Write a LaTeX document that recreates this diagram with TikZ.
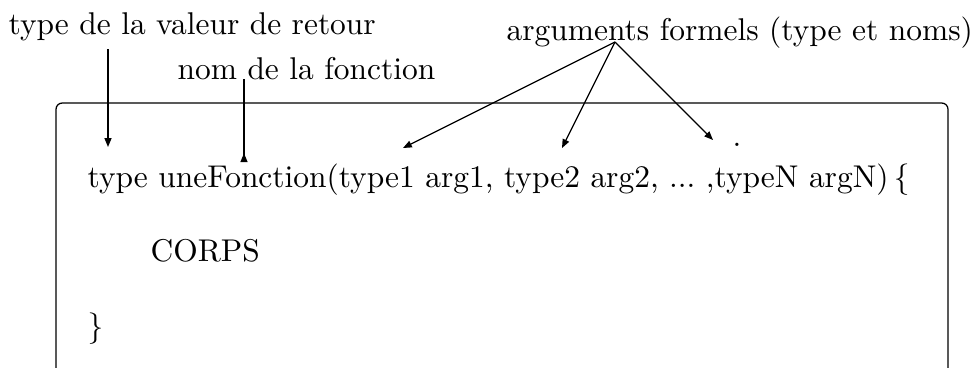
\documentclass[tikz,border=0pt]{standalone}
\usepackage{tikz}
\usetikzlibrary{arrows.meta,positioning}

\begin{document}
\begin{tikzpicture}[
  x=0.318pt, y=-0.318pt,
  lbl/.style={inner sep=0pt, anchor=base west},
  code/.style={inner sep=0pt, anchor=base west},
  >={Triangle[length=2.8pt,width=2.2pt]}]

  \useasboundingbox (0,0) rectangle (979,367);

  % labels
  \node[lbl] (ret) at (8,34) {type de la valeur de retour};
  \node[lbl] (nom) at (177,79) {nom de la fonction};
  \node[lbl] (args) at (506,40) {arguments formels (type et noms)};

  % code block
  \node[code] (sig) at (87,187) {type uneFonction(type1 arg1, type2 arg2, ...\ ,typeN argN)\,\{};
  \node[code] (corps) at (150,261) {CORPS};
  \node[code] (fin) at (87,336) {\}};
  \node[code] (dot) at (732,146) {.};

  \draw[rounded corners=2pt] (56,420) -- (56,103) -- (948,103) -- (948,420);

  % arrow ends
  \coordinate (retA) at (108,49);
  \coordinate (retB) at (108,147);
  \coordinate (nomA) at (244,79);
  \coordinate (nomB) at (244,162);
  \coordinate (argA) at (615,42);
  \coordinate (arg1) at (403,148);
  \coordinate (arg2) at (562,148);
  \coordinate (argN) at (713,140);

  \draw[->] (retA) -- (retB);
  \draw[-<] (nomA) -- (nomB);
  \draw[->] (argA) -- (arg1);
  \draw[->] (argA) -- (arg2);
  \draw[->] (argA) -- (argN);
\end{tikzpicture}
\end{document}
